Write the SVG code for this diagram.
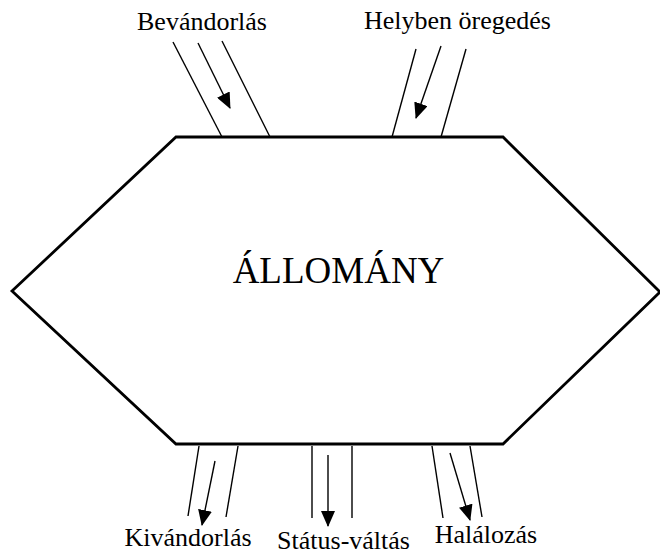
<svg xmlns="http://www.w3.org/2000/svg" width="660" height="554" viewBox="0 0 660 554">
<style>
text{font-family:"Liberation Serif","Times New Roman",serif;fill:#000;text-anchor:middle}
.lbl{font-size:26px}
.main{font-size:37px}
.side{stroke:#000;stroke-width:1.4;fill:none}
.arr{stroke:#000;stroke-width:1.4;fill:none;marker-end:url(#ah)}
.hex{stroke:#000;stroke-width:2.8;fill:#fff;stroke-linejoin:miter}
</style>
<defs>
<marker id="ah" markerUnits="userSpaceOnUse" markerWidth="16" markerHeight="14" viewBox="0 0 16 14" refX="15" refY="7" orient="auto">
<path d="M0,0 L16,7 L0,14 z" fill="#000"/>
</marker>
</defs>
<rect width="660" height="554" fill="#fff"/>
<g id="allomany">
<polygon class="hex" points="12,291 176,137 503,137 660,292 503,444 176,444"/>
<text class="main" x="338.5" y="283">ÁLLOMÁNY</text>
</g>
<g id="bevandorlas">
<text class="lbl" x="202" y="30">Bevándorlás</text>
</g>
<g id="helyben">
<text class="lbl" x="457.5" y="29">Helyben öregedés</text>
</g>
<g id="kivandorlas">
<text class="lbl" x="188" y="546">Kivándorlás</text>
</g>
<g id="statusvaltas">
<text class="lbl" x="343.5" y="549">Státus-váltás</text>
</g>
<g id="halalozas">
<text class="lbl" x="486" y="543">Halálozás</text>
</g>
<g id="connectors">
<line class="side" x1="173" y1="42" x2="222" y2="137"/>
<line class="side" x1="222" y1="41" x2="270" y2="137"/>
<line class="arr" x1="198" y1="43" x2="230" y2="108"/>
<line class="side" x1="416" y1="49" x2="392" y2="137"/>
<line class="side" x1="466" y1="49" x2="441" y2="137"/>
<line class="arr" x1="441" y1="46" x2="416" y2="118"/>
<line class="side" x1="199" y1="446" x2="188" y2="516"/>
<line class="side" x1="238" y1="446" x2="226" y2="517"/>
<line class="arr" x1="215" y1="461" x2="202" y2="525"/>
<line class="side" x1="312" y1="446" x2="312" y2="518"/>
<line class="side" x1="352" y1="446" x2="352" y2="518"/>
<line class="arr" x1="328" y1="455" x2="328" y2="526"/>
<line class="side" x1="432" y1="446" x2="443" y2="518"/>
<line class="side" x1="470" y1="446" x2="482" y2="517"/>
<line class="arr" x1="450" y1="453" x2="470" y2="520"/>
</g>
</svg>
